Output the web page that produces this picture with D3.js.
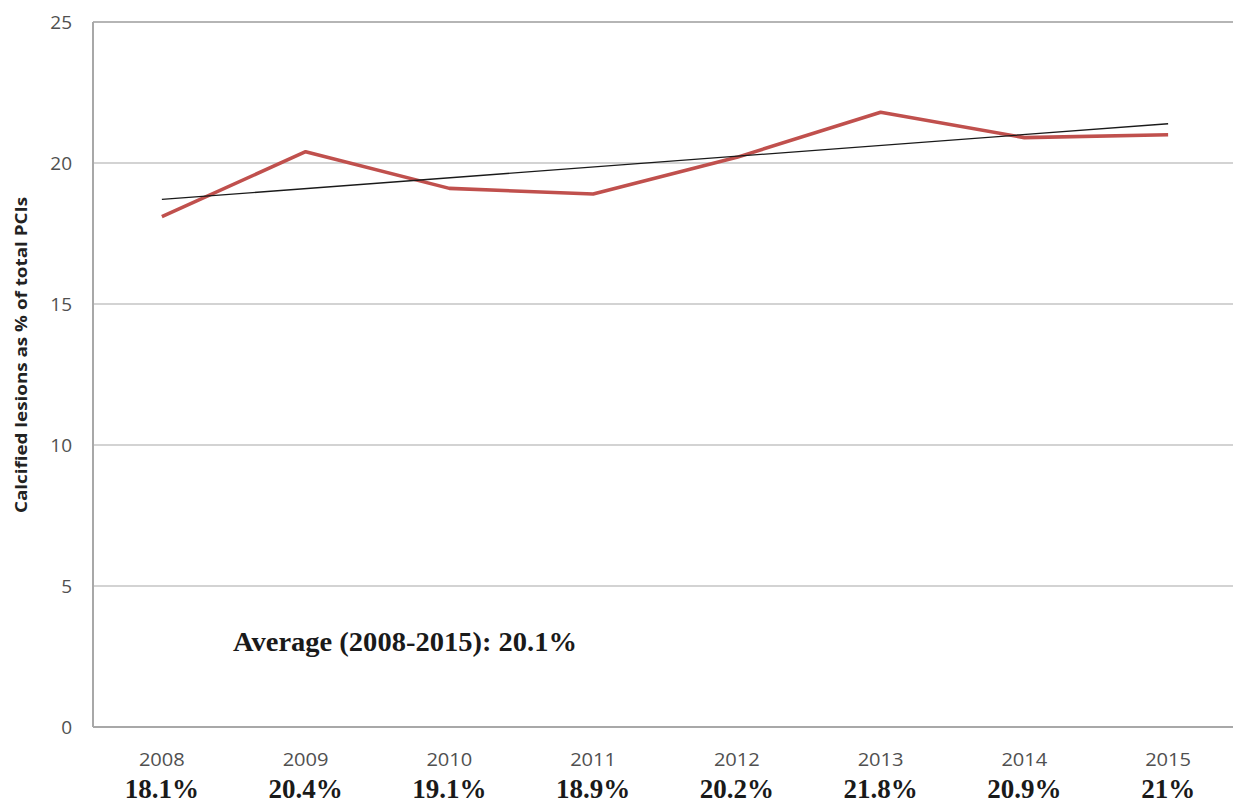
<!DOCTYPE html>
<html>
<head>
<meta charset="utf-8">
<script src="https://cdn.jsdelivr.net/npm/d3@7/dist/d3.min.js"></script>
<style>
  html, body { margin: 0; padding: 0; background: #fff; }
  svg { display: block; }
</style>
</head>
<body>
<svg id="chart" width="1233" height="806"></svg>
<script>
// Yearly share of calcified lesions among all PCIs
const years = ["2008", "2009", "2010", "2011", "2012", "2013", "2014", "2015"];
const values = [18.1, 20.4, 19.1, 18.9, 20.2, 21.8, 20.9, 21.0];
const valueLabels = ["18.1%", "20.4%", "19.1%", "18.9%", "20.2%", "21.8%", "20.9%", "21%"];
const yTicks = [0, 5, 10, 15, 20, 25];
const averageText = "Average (2008-2015): 20.1%";
const yTitle = "Calcified  lesions as % of total PCIs";

const svg = d3.select("#chart");
const plot = { left: 93, right: 1240, top: 22, bottom: 727 };

const x = d3.scalePoint()
  .domain(years)
  .range([90, 1240])
  .padding(0.5);

const y = d3.scaleLinear()
  .domain([0, 25])
  .range([plot.bottom, plot.top]);

// Horizontal gridlines
svg.append("g")
  .selectAll("line")
  .data(yTicks.filter(t => t > 0))
  .join("line")
  .attr("x1", plot.left)
  .attr("x2", plot.right)
  .attr("y1", d => y(d))
  .attr("y2", d => y(d))
  .attr("stroke", d => d === 25 ? "#b5b5b5" : "#c4c4c4")
  .attr("stroke-width", d => d === 25 ? 2 : 1.4);

// Axis frame (left and bottom)
svg.append("line")
  .attr("x1", plot.left).attr("x2", plot.left)
  .attr("y1", plot.top).attr("y2", plot.bottom)
  .attr("stroke", "#a8a8a8").attr("stroke-width", 2);
svg.append("line")
  .attr("x1", plot.left).attr("x2", plot.right)
  .attr("y1", plot.bottom).attr("y2", plot.bottom)
  .attr("stroke", "#a8a8a8").attr("stroke-width", 2);

// Y tick labels
svg.append("g")
  .selectAll("text")
  .data(yTicks)
  .join("text")
  .attr("x", 72)
  .attr("y", d => y(d))
  .attr("dy", "0.36em")
  .attr("text-anchor", "end")
  .attr("font-family", "'Open Sans', 'DejaVu Sans', sans-serif")
  .attr("font-size", 19)
  .attr("fill", "#505050")
  .text(d => d);

// Y axis title
svg.append("text")
  .attr("transform", "translate(27,355) rotate(-90)")
  .attr("text-anchor", "middle")
  .attr("font-family", "'Open Sans', 'Liberation Sans', sans-serif")
  .attr("font-weight", "bold")
  .attr("font-size", 16.5)
  .attr("textLength", 316)
  .attr("lengthAdjust", "spacingAndGlyphs")
  .attr("fill", "#222")
  .text(yTitle);

// X year labels
svg.append("g")
  .selectAll("text")
  .data(years)
  .join("text")
  .attr("x", d => x(d))
  .attr("y", 766)
  .attr("text-anchor", "middle")
  .attr("font-family", "'Open Sans', 'DejaVu Sans', sans-serif")
  .attr("font-size", 18)
  .attr("textLength", 46)
  .attr("lengthAdjust", "spacingAndGlyphs")
  .attr("fill", "#505050")
  .text(d => d);

// Value labels under the years
svg.append("g")
  .selectAll("text")
  .data(years)
  .join("text")
  .attr("x", d => x(d))
  .attr("y", 798)
  .attr("text-anchor", "middle")
  .attr("font-family", "'Liberation Serif', 'Times New Roman', serif")
  .attr("font-weight", "bold")
  .attr("font-size", 27)
  .attr("fill", "#1a1a1a")
  .text((d, i) => valueLabels[i]);

// Linear trend (least squares fit of the yearly values)
const idx = values.map((_, i) => i);
const mx = d3.mean(idx), my = d3.mean(values);
const slope = d3.sum(idx, i => (i - mx) * (values[i] - my)) / d3.sum(idx, i => (i - mx) ** 2);
const intercept = my - slope * mx;
const trend = [0, years.length - 1].map(i => [x(years[i]), y(intercept + slope * i)]);

// Data series
const line = d3.line()
  .x((d, i) => x(years[i]))
  .y(d => y(d));

svg.append("path")
  .datum(values)
  .attr("d", line)
  .attr("fill", "none")
  .attr("stroke", "#c0504d")
  .attr("stroke-width", 3.6)
  .attr("stroke-linejoin", "round");

svg.append("path")
  .attr("d", d3.line()(trend))
  .attr("fill", "none")
  .attr("stroke", "#1a1a1a")
  .attr("stroke-width", 1.3);

// Average annotation
svg.append("text")
  .attr("x", 233)
  .attr("y", 651)
  .attr("font-family", "'Liberation Serif', 'Times New Roman', serif")
  .attr("font-weight", "bold")
  .attr("font-size", 27)
  .attr("textLength", 344)
  .attr("lengthAdjust", "spacingAndGlyphs")
  .attr("fill", "#1a1a1a")
  .text(averageText);
</script>
</body>
</html>
